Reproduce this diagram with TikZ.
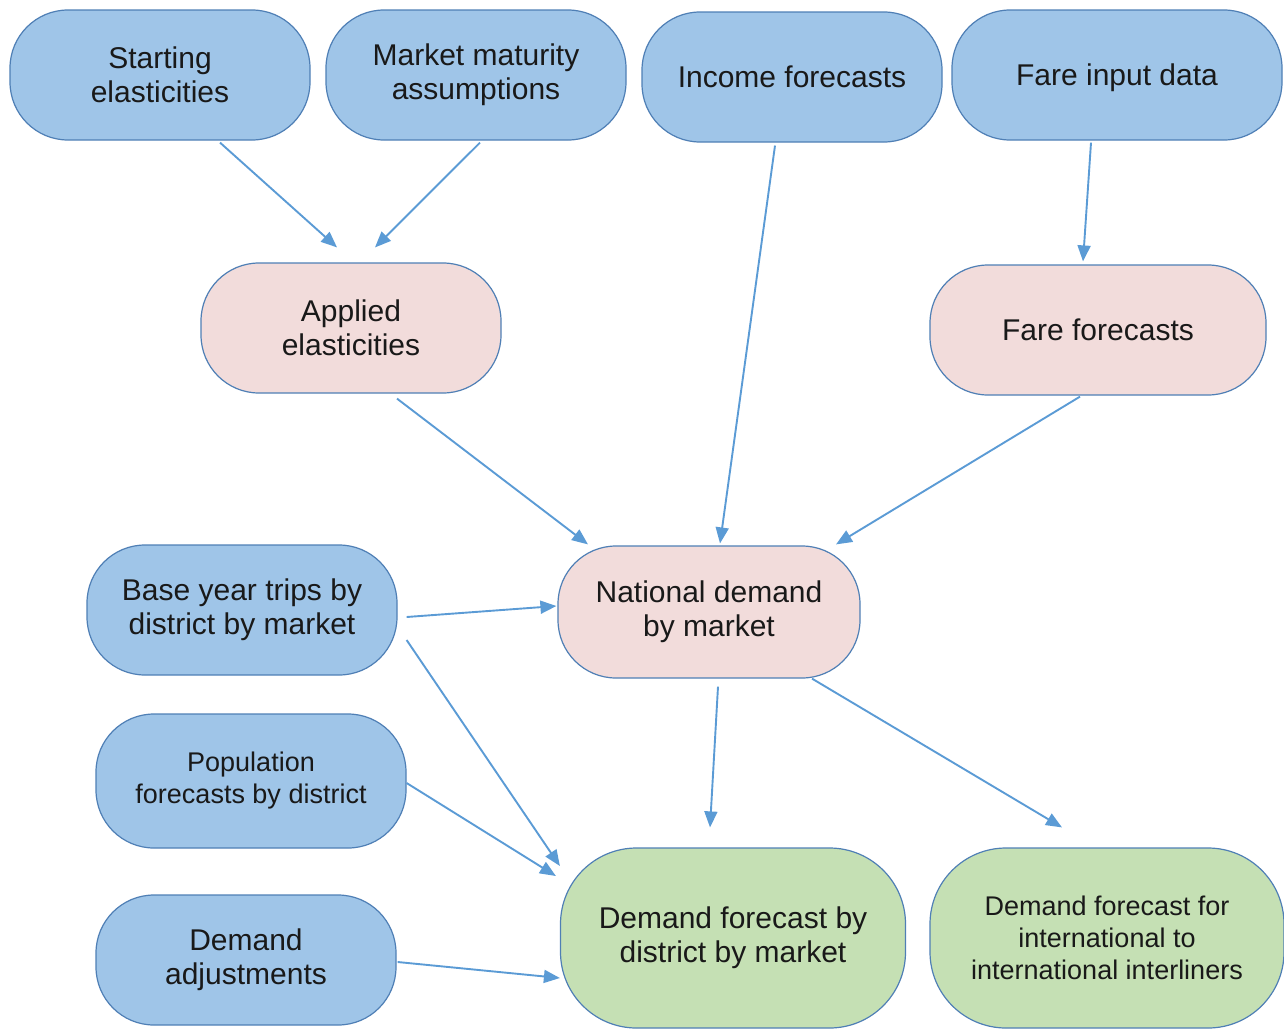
\documentclass[tikz,border=0pt]{standalone}
\usepackage{fontspec}
\setmainfont{Liberation Sans}
\usetikzlibrary{arrows.meta,calc}

\definecolor{inblue}{HTML}{9FC5E8}
\definecolor{midpink}{HTML}{F2DCDB}
\definecolor{outgreen}{HTML}{C5E0B4}
\definecolor{boxline}{HTML}{4F7FB5}
\definecolor{linkblue}{HTML}{5B9BD5}

\tikzset{
	box/.style={draw=boxline, line width=1.2pt, rounded corners=58pt, align=center,
		inner sep=0pt, minimum width=300pt, minimum height=130pt,
		font=\fontsize{30}{34}\selectfont, text=black!90},
	inbox/.style={box, fill=inblue},
	midbox/.style={box, fill=midpink},
	outbox/.style={box, fill=outgreen, rounded corners=76pt, minimum height=180pt},
	link/.style={draw=linkblue, line width=1.9pt, -{Triangle[length=16pt,width=13pt]}}
}

\begin{document}
\begin{tikzpicture}[x=1pt, y=-1pt]
	\useasboundingbox (0,0) rectangle (1284,1028);
	
	%Eingaben oben
	\node[inbox] (start) at (160,75) {Starting\\elasticities};
	\node[inbox] (maturity) at (476,75) {Market maturity\\assumptions};
	\node[inbox] (income) at (792,77) {Income forecasts};
	\node[inbox, minimum width=330pt, text depth=0pt] (fareinput) at (1117,75) {Fare input data};
	
	%Zwischenstufe
	\node[midbox] (applied) at (351,328) {Applied\\elasticities};
	\node[midbox, minimum width=336pt] (fare) at (1098,330) {Fare forecasts};
	\node[midbox, minimum width=302pt, minimum height=132pt] (national) at (709,612) {National demand\\by market};
	
	%Eingaben links
	\node[inbox, minimum width=310pt] (base) at (242,610) {Base year trips by\\district by market};
	\node[inbox, minimum width=310pt, minimum height=134pt, font=\fontsize{27}{32}\selectfont] (population) at (251,781) {Population\\forecasts by district};
	\node[inbox] (adjust) at (246,960) {Demand\\adjustments};
	
	%Ergebnisse
	\node[outbox, minimum width=345pt] (district) at (733,938) {Demand forecast by\\district by market};
	\node[outbox, minimum width=354pt, font=\fontsize{27}{32}\selectfont] (intl) at (1107,938) {Demand forecast for\\international to\\international interliners};
	
	%Pfeile
	\draw[link] ($(start.south)+(60,2)$) -- ($(applied.north)+(-14,-15)$);
	\draw[link] ($(maturity.south)+(4,2)$) -- ($(applied.north)+(24,-15)$);
	\draw[link] ($(income.south)+(-17,3)$) -- ($(national.north)+(11,-2)$);
	\draw[link] ($(fareinput.south)+(-26,2)$) -- ($(fare.north)+(-15,-3)$);
	\draw[link] ($(applied.south)+(46,5)$) -- ($(national.north)+(-121,-1)$);
	\draw[link] ($(fare.south)+(-18,1)$) -- ($(national.north)+(127,-1)$);
	\draw[link] ($(base.east)+(9,7)$) -- ($(national.west)+(-1,-6)$);
	\draw[link] ($(base.east)+(9,30)$) -- ($(district.west)+(0,-72)$);
	\draw[link] ($(population.east)+(0,2)$) -- ($(district.west)+(-4,-62)$);
	\draw[link] ($(adjust.east)+(1,2)$) -- ($(district.west)+(0,40)$);
	\draw[link] ($(national.south)+(9,8)$) -- ($(district.north)+(-23,-20)$);
	\draw[link] ($(national.south)+(103,0)$) -- ($(intl.north)+(-45,-20)$);
\end{tikzpicture}
\end{document}
